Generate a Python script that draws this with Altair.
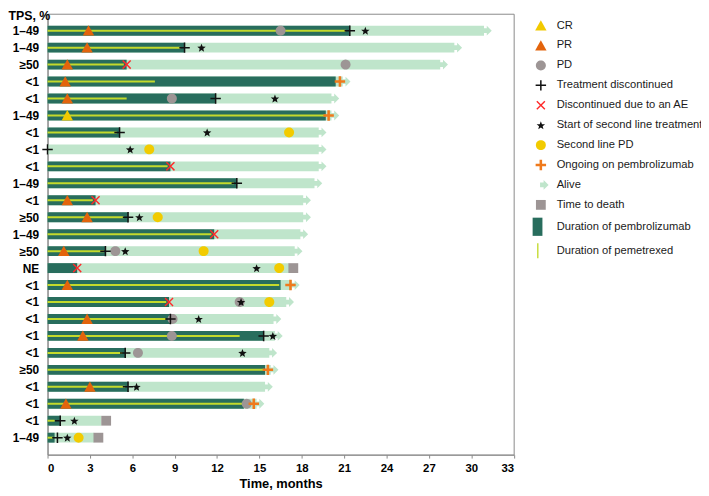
import math
import json
import altair as alt
import pandas as pd

# ---------------- data ----------------
tps = ["1–49", "1–49", "≥50", "<1", "<1", "1–49", "<1", "<1", "<1", "1–49",
       "<1", "≥50", "1–49", "≥50", "NE", "<1", "<1", "<1", "<1", "<1",
       "≥50", "<1", "<1", "<1", "1–49"]

followup_end = [30.9, 28.8, 27.8, 20.9, 20.1, 20.1, 19.2, 19.2, 19.2, 18.9,
                18.1, 18.1, 17.9, 17.5, 17.1, 17.3, 16.9, 16.0, 16.1, 15.7,
                15.8, 15.4, 14.8, 3.8, 3.3]
pembro_end = [21.4, 9.7, 5.6, 20.4, 11.9, 19.7, 5.1, 0.0, 8.7, 13.4,
              3.4, 5.7, 11.8, 4.1, 2.1, 16.5, 8.6, 8.7, 15.3, 5.5,
              15.4, 5.7, 13.9, 0.9, 0.5]
pemetrexed_end = [21.1, 9.4, 5.4, 7.6, 5.6, 19.7, 4.9, 0.0, 8.5, 13.2,
                  3.2, 5.4, 11.6, 4.0, 0.0, 16.4, 8.4, 8.4, 13.6, 5.3,
                  15.3, 5.5, 13.8, 0.5, 0.4]

# events: (patient row, time in months)
cr = [(6, 1.4)]
pr = [(1, 2.9), (2, 2.8), (3, 1.4), (4, 1.25), (5, 1.4), (11, 1.4), (12, 2.8),
      (14, 1.15), (16, 1.4), (18, 2.8), (19, 2.5), (22, 3.0), (23, 1.3)]
pd_ev = [(1, 16.5), (3, 21.1), (5, 8.8), (14, 4.8), (17, 13.6), (18, 8.85),
         (19, 8.8), (20, 6.4), (23, 14.1)]
discontinued = [(1, 21.4), (2, 9.7), (5, 11.9), (7, 5.1), (8, 0.0), (10, 13.4),
                (12, 5.7), (14, 4.1), (18, 8.7), (19, 15.3), (20, 5.5), (22, 5.7),
                (24, 0.9), (25, 0.7)]
disc_ae = [(3, 5.6), (9, 8.7), (11, 3.4), (13, 11.8), (15, 2.1), (17, 8.6)]
second_line = [(1, 22.5), (2, 10.9), (5, 16.1), (7, 11.3), (8, 5.85), (12, 6.5),
               (14, 5.5), (15, 14.8), (17, 13.7), (18, 10.7), (19, 15.95),
               (20, 13.8), (22, 6.3), (24, 1.9), (25, 1.4)]
second_pd = [(7, 17.1), (8, 7.2), (12, 7.8), (14, 11.05), (15, 16.4), (17, 15.7),
             (25, 2.2)]
ongoing = [(4, 20.7), (6, 19.9), (16, 17.2), (21, 15.6), (23, 14.6)]
death = [(15, 17.4), (24, 4.15), (25, 3.6)]
alive_rows = [r for r in range(1, 26) if r not in (15, 24, 25)]

# ---------------- legend / symbol styling ----------------
labels = ["CR", "PR", "PD", "Treatment discontinued", "Discontinued due to an AE",
          "Start of second line treatment", "Second line PD",
          "Ongoing on pembrolizumab", "Alive", "Time to death",
          "Duration of pembrolizumab", "Duration of pemetrexed"]

LIGHT = "#bfe5cb"
DARK = "#286d5d"
PEM = "#c3da2c"
colors = ["#f2c900", "#e3640c", "#9d9595", "#111111", "#ff2a2a", "#111111",
          "#f2cb00", "#ef7a1c", LIGHT, "#9d9595", DARK, PEM]


def poly(pts):
    return "M" + " L".join(f"{x:.3f},{y:.3f}" for x, y in pts) + " Z"


def rot(pts, a):
    c, s = math.cos(a), math.sin(a)
    return [(x * c - y * s, x * s + y * c) for x, y in pts]


def cross(arm, t, angle=0.0):
    pts = [(-t, -arm), (t, -arm), (t, -t), (arm, -t), (arm, t), (t, t), (t, arm),
           (-t, arm), (-t, t), (-arm, t), (-arm, -t), (-t, -t)]
    return poly(rot(pts, angle))


def circle(r, n=32):
    return poly([(r * math.cos(2 * math.pi * i / n), r * math.sin(2 * math.pi * i / n))
                 for i in range(n)])


def star(ro, ri):
    pts = []
    for i in range(10):
        r = ro if i % 2 == 0 else ri
        a = -math.pi / 2 + i * math.pi / 5
        pts.append((r * math.cos(a), r * math.sin(a) + 0.06))
    return poly(pts)


tri = poly([(0, -0.68), (0.72, 0.62), (-0.72, 0.62)])
arrow = poly([(-0.1, -0.3), (0.35, -0.3), (0.35, -0.62), (0.98, 0), (0.35, 0.62),
              (0.35, 0.3), (-0.1, 0.3)])
square = poly([(-0.62, -0.62), (0.62, -0.62), (0.62, 0.62), (-0.62, 0.62)])
pembro_sym = poly([(-1.04, -1.15), (0.2, -1.15), (0.2, 1.15), (-1.04, 1.15)])
pem_sym = poly([(-0.47, -0.95), (-0.3, -0.95), (-0.3, 0.95), (-0.47, 0.95)])

shapes = [tri, tri, circle(0.63), cross(0.66, 0.095), cross(0.72, 0.09, math.pi / 4),
          star(0.56, 0.24), circle(0.63), cross(0.66, 0.16), arrow, square,
          pembro_sym, pem_sym]

# ---------------- tables ----------------
rows = list(range(1, 26))
bars_light = pd.DataFrame({"row": rows, "start": 0.0, "end": followup_end})
bars_dark = pd.DataFrame({"row": rows, "start": 0.0, "end": pembro_end})
bars_dark = bars_dark[bars_dark["end"] > 0]
bars_pem = pd.DataFrame({"row": rows, "start": 0.0, "end": pemetrexed_end})
bars_pem = bars_pem[bars_pem["end"] > 0]

ev_rows = []
draw_order = [("PD", pd_ev), ("Second line PD", second_pd), ("CR", cr), ("PR", pr),
              ("Alive", [(r, followup_end[r - 1]) for r in alive_rows]),
              ("Time to death", death), ("Treatment discontinued", discontinued),
              ("Discontinued due to an AE", disc_ae),
              ("Start of second line treatment", second_line),
              ("Ongoing on pembrolizumab", ongoing)]
for name, lst in draw_order:
    for r, t in lst:
        ev_rows.append({"row": r, "time": t, "event": name})
events = pd.DataFrame(ev_rows)

# ---------------- scales & axes ----------------
xscale = alt.Scale(domain=[0, 33], nice=False, zero=False)
yscale = alt.Scale(domain=[0, 26], reverse=True, nice=False, zero=False)
FONT = "Liberation Sans"

x_axis = alt.Axis(values=list(range(0, 34, 3)), format="d", grid=False,
                  labelOverlap=False,
                  title="Time, months", titleFontSize=13, titleFontWeight="bold",
                  titleFont=FONT, titleColor="#000", titleY=33,
                  titleBaseline="alphabetic",
                  labelFont=FONT, labelFontSize=11.5, labelFontWeight="bold",
                  labelColor="#000", labelPadding=5, tickSize=3.5,
                  tickColor="#8a8a8a", domainColor="#8a8a8a")
label_expr = json.dumps(tps) + "[datum.value - 1]"
y_axis = alt.Axis(values=rows, labelExpr=label_expr, grid=False, ticks=False,
                  tickSize=0, labelOverlap=False, labelFlush=False,
                  title="TPS, %", titleAngle=0, titleAlign="left",
                  titleBaseline="alphabetic", titleX=-40, titleY=6,
                  titleFont=FONT, titleFontSize=12.5, titleFontWeight="bold",
                  titleColor="#000", labelFont=FONT, labelFontSize=12,
                  labelFontWeight="bold", labelColor="#000", labelPadding=9,
                  domainColor="#8a8a8a")

X_start = alt.X("start:Q", scale=xscale, axis=x_axis)
Y_row = alt.Y("row:Q", scale=yscale, axis=y_axis)

light = alt.Chart(bars_light).mark_rule(strokeWidth=10, strokeCap="butt",
                                         color=LIGHT).encode(
    x=X_start, x2="end:Q", y=Y_row,
)
dark = alt.Chart(bars_dark).mark_rule(strokeWidth=10, strokeCap="butt",
                                       color=DARK).encode(
    x=X_start, x2="end:Q", y=Y_row,
)
pem = alt.Chart(bars_pem).mark_rule(strokeWidth=2, strokeCap="butt",
                                     color=PEM).encode(
    x=X_start, x2="end:Q", y=Y_row,
)

legend = alt.Legend(title=None, orient="none", legendX=491, legendY=4,
                    symbolSize=256, symbolStrokeWidth=0, symbolOpacity=1,
                    labelFont=FONT, labelFontSize=11.3, labelColor="#1a1a1a",
                    labelOffset=8, rowPadding=6.15, labelLimit=400)

points = alt.Chart(events).mark_point(filled=True, size=256, opacity=1,
                                      strokeWidth=0).encode(
    x=alt.X("time:Q", scale=xscale, axis=x_axis),
    y=Y_row,
    shape=alt.Shape("event:N", scale=alt.Scale(domain=labels, range=shapes),
                    legend=legend),
    color=alt.Color("event:N", scale=alt.Scale(domain=labels, range=colors),
                    legend=legend),
)

chart = alt.layer(light, dark, pem, points).properties(
    width=471.5, height=446,
    autosize=alt.AutoSizeParams(type="none"),
    padding={"left": 40, "top": 3, "right": 189.5, "bottom": 35},
).configure_view(stroke="#8a8a8a", strokeWidth=1).configure_axis(
    labelOverlap=False
)

chart.save("out.html", embed_options={"renderer": "svg", "actions": False})
